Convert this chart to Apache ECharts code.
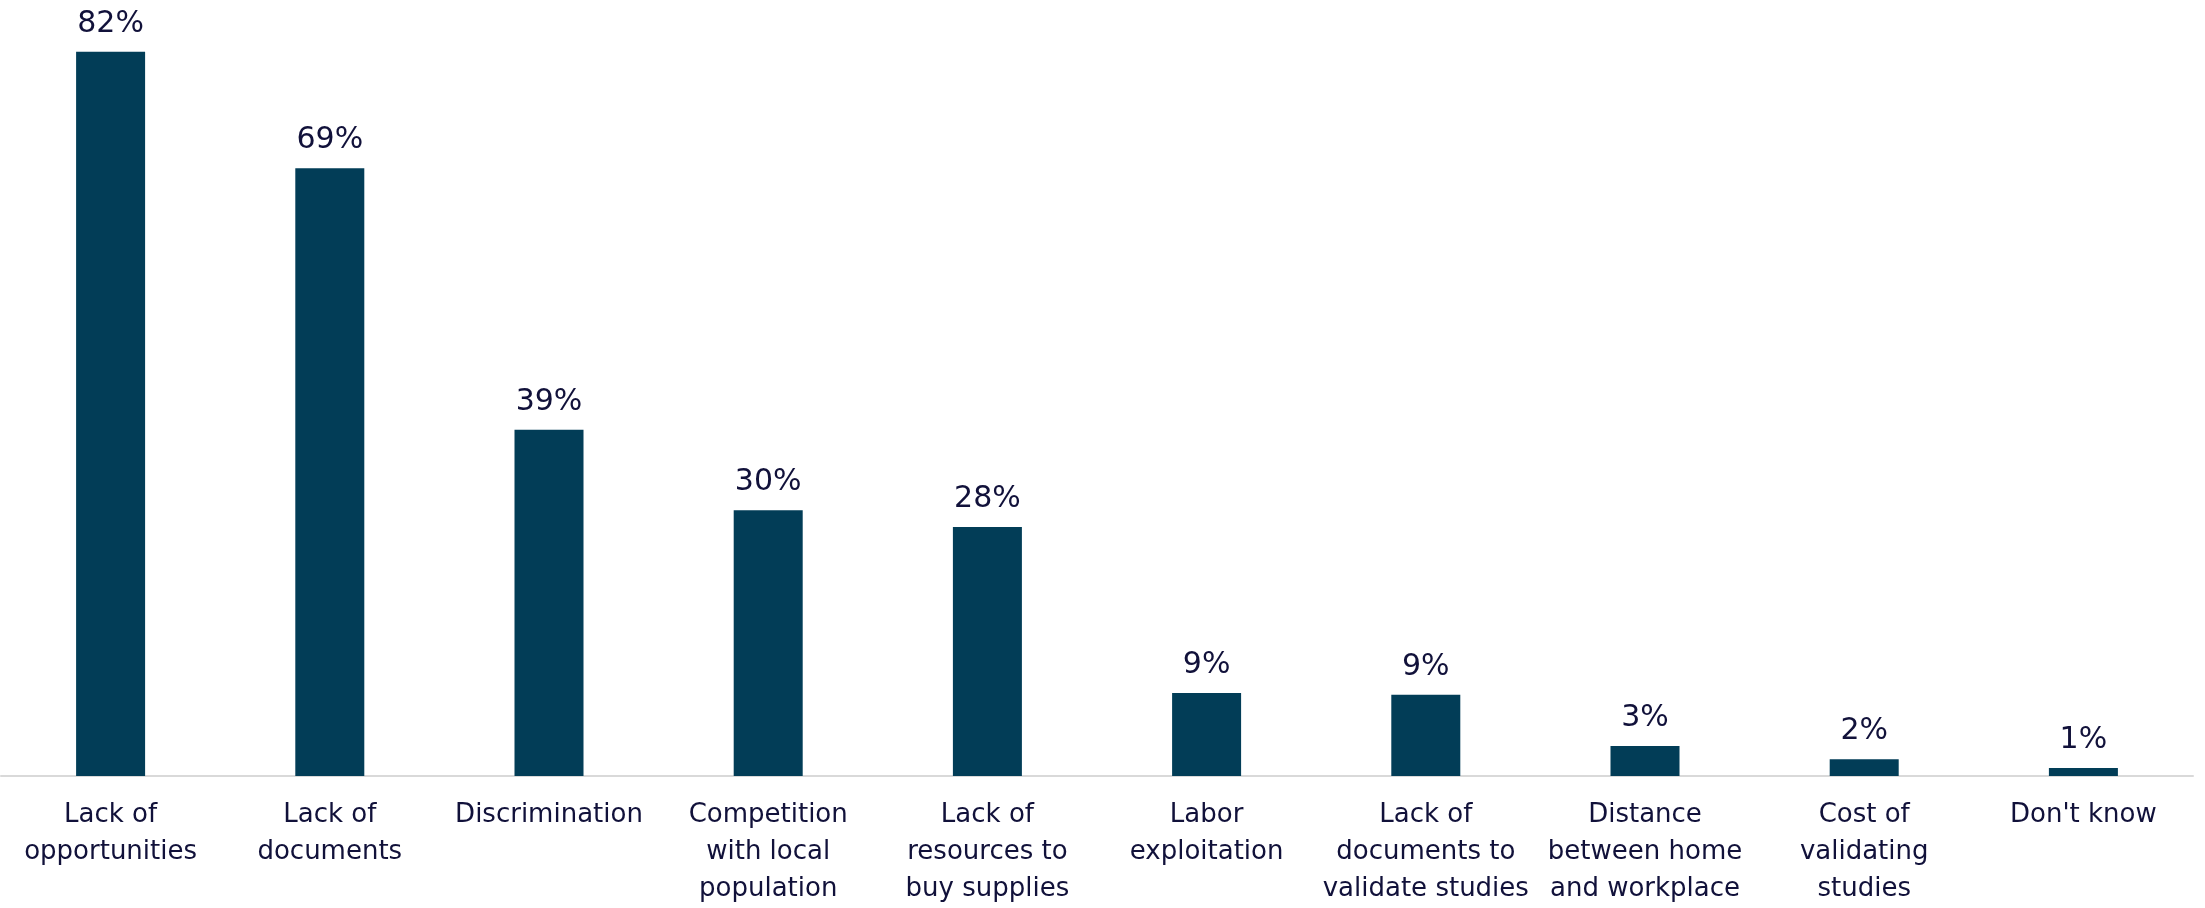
<!DOCTYPE html>
<html>
<head>
<meta charset="utf-8">
<style>
  html, body { margin: 0; padding: 0; background: #ffffff; overflow: hidden; }
  #chart { width: 2205px; height: 908px; }
</style>
<script src="https://cdn.jsdelivr.net/npm/echarts@6/dist/echarts.min.js"></script>
</head>
<body>
<div id="chart"></div>
<script>
const categories = [
  "Lack of\nopportunities",
  "Lack of\ndocuments",
  "Discrimination",
  "Competition\nwith local\npopulation",
  "Lack of\nresources to\nbuy supplies",
  "Labor\nexploitation",
  "Lack of\ndocuments to\nvalidate studies",
  "Distance\nbetween home\nand workplace",
  "Cost of\nvalidating\nstudies",
  "Don't know"
];
const values = [82, 68.8, 39.2, 30.1, 28.2, 9.4, 9.2, 3.4, 1.9, 0.9];
const valueLabels = ["82%", "69%", "39%", "30%", "28%", "9%", "9%", "3%", "2%", "1%"];

const chart = echarts.init(document.getElementById('chart'), null, { renderer: 'canvas' });
chart.setOption({
  animation: false,
  backgroundColor: '#ffffff',
  grid: { left: 1, right: 12, top: 25.3, bottom: 131.3, containLabel: false },
  xAxis: {
    type: 'category',
    data: categories,
    axisLine: { show: true, lineStyle: { color: '#d9d9d9', width: 2 } },
    axisTick: { show: false },
    axisLabel: {
      interval: 0,
      margin: 21,
      color: '#11113a',
      fontFamily: 'DejaVu Sans',
      fontSize: 26,
      lineHeight: 37
    }
  },
  yAxis: {
    type: 'value',
    min: 0,
    max: 85,
    show: false,
    splitLine: { show: false }
  },
  series: [{
    type: 'bar',
    data: values,
    barWidth: 69,
    itemStyle: { color: '#023d57' },
    label: {
      show: true,
      position: 'top',
      distance: 13,
      color: '#11113a',
      fontFamily: 'DejaVu Sans',
      fontSize: 30,
      formatter: function (p) { return valueLabels[p.dataIndex]; }
    }
  }]
});
</script>
</body>
</html>
